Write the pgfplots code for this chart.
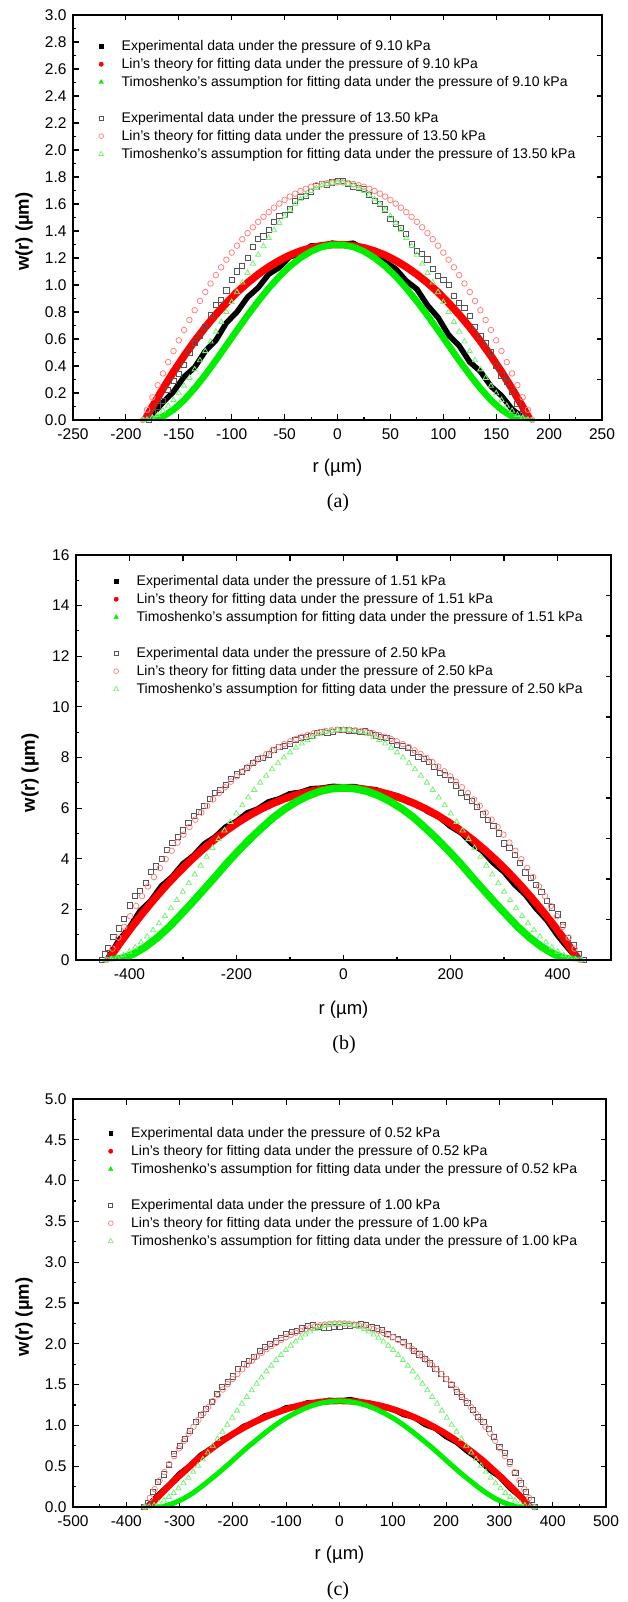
\documentclass[border=0pt]{standalone}
\usepackage{fontspec}
\setmainfont{Liberation Sans}
\newfontfamily\capfont{Liberation Serif}
\usepackage{pgfplots}
\pgfplotsset{compat=1.18}

\definecolor{lred}{RGB}{255,128,128}
\definecolor{lgreen}{RGB}{120,240,120}
\definecolor{fgreen}{RGB}{0,238,0}
\definecolor{dgray}{RGB}{85,85,85}

\pgfplotsset{
  frame/.style={
    scale only axis, anchor=north west,
    axis line style={line width=1.4pt},
    tick style={line width=1.1pt, black},
    major tick length=5.5pt, minor tick length=3pt,
    tick align=inside,
  },
  panel/.style={
    frame, tick pos=left,
    tick label style={font=\fontsize{15.5}{18}\selectfont},
    /pgf/number format/assume math mode=true,
    yticklabel style={xshift=-3pt},
    xticklabel style={yshift=-5pt},
    xlabel style={font=\fontsize{18.5}{22}\selectfont, anchor=center},
    ylabel style={font=\bfseries\fontsize{18.5}{22}\selectfont, anchor=center},
    legend cell align=left,
    legend style={draw=none, fill=none, inner sep=0pt, anchor=north west,
      row sep=5pt, column sep=0pt,
      nodes={inner sep=0pt, text height=10pt, text depth=3pt,
        font=\fontsize{14}{16}\selectfont}},
    legend image code/.code={
      \path[draw=none, fill=none] (-4pt,-5pt) rectangle (20.5pt,5pt);
      \draw[#1] plot coordinates {(0pt,1pt)};},
  },
  mirror/.style={frame, tick pos=right, xticklabels={}, yticklabels={},
    minor tick num=0},
  expA/.style={forget plot, black, line width=#1, line join=round, line cap=round},
  linA/.style={forget plot, red, line width=#1, line join=round, line cap=round},
  timA/.style={forget plot, fgreen, line width=#1, line join=round, line cap=round},
  expB/.style={forget plot, only marks, mark=square, mark size=2.6pt, mark options={dgray, line width=0.8pt}},
  linB/.style={forget plot, only marks, mark=o, mark size=2.8pt, mark options={lred, line width=0.8pt}},
  timB/.style={forget plot, only marks, mark=triangle, mark size=3pt, mark options={lgreen, line width=0.8pt}},
}

\newcommand{\legendset}[2]{%
  \addlegendimage{only marks, mark=square*, black, mark size=1.8pt}
  \addlegendentry{Experimental data under the pressure of #1 kPa}
  \addlegendimage{only marks, mark=*, red, mark size=2.2pt}
  \addlegendentry{Lin's theory for fitting data under the pressure of #1 kPa}
  \addlegendimage{only marks, mark=triangle*, fgreen, mark size=2.6pt}
  \addlegendentry{Timoshenko's assumption for fitting data under the pressure of #1 kPa}
  \addlegendimage{empty legend}
  \addlegendentry{}
  \addlegendimage{only marks, mark=square, mark size=2pt, mark options={dgray, line width=0.7pt}}
  \addlegendentry{Experimental data under the pressure of #2 kPa}
  \addlegendimage{only marks, mark=o, mark size=2.4pt, mark options={lred, line width=0.7pt}}
  \addlegendentry{Lin's theory for fitting data under the pressure of #2 kPa}
  \addlegendimage{only marks, mark=triangle, mark size=2.8pt, mark options={lgreen, line width=0.7pt}}
  \addlegendentry{Timoshenko's assumption for fitting data under the pressure of #2 kPa}
}

\begin{document}
\begin{tikzpicture}
\path[use as bounding box] (0,0) rectangle (627pt,-1602pt);

% ---------------- (a) ----------------
\begin{axis}[panel, at={(73pt,-15pt)}, width=529pt, height=405pt,
  xmin=-250, xmax=250, ymin=0, ymax=3,
  xtick={-250,-200,-150,-100,-50,0,50,100,150,200,250}, minor x tick num=1,
  ytick={0,0.2,0.4,0.6,0.8,1.0,1.2,1.4,1.6,1.8,2.0,2.2,2.4,2.6,2.8,3.0}, minor y tick num=1,
  yticklabel style={/pgf/number format/.cd, fixed, fixed zerofill, precision=1},
  xlabel={r (µm)}, ylabel={w(r) (µm)},
  xlabel style={at={([yshift=-48pt]axis description cs:0.5,0)}},
  ylabel style={at={([xshift=-49pt]axis description cs:0,0.465)}},
  legend style={at={(axis description cs:0,1)}, xshift=24pt, yshift=-25.5pt},
]
\addplot[expA=5.5pt] coordinates {(-178,0.00) (-175,0.04) (-165,0.13) (-155,0.21) (-145,0.32) (-135,0.39) (-125,0.51) (-115,0.59) (-105,0.72) (-95,0.80) (-85,0.91) (-75,0.98) (-65,1.08) (-55,1.13) (-45,1.21) (-35,1.23) (-25,1.29) (-15,1.29) (-5,1.31) (5,1.30) (15,1.31) (25,1.26) (35,1.24) (45,1.17) (55,1.12) (65,1.03) (75,0.97) (85,0.85) (95,0.76) (105,0.63) (115,0.55) (125,0.43) (135,0.36) (145,0.25) (155,0.18) (165,0.08) (175,0.02)};
\addplot[linA=7.5pt] coordinates {(-182,0) (-175,0.098) (-165,0.232) (-155,0.357) (-145,0.475) (-135,0.585) (-125,0.687) (-115,0.781) (-105,0.867) (-95,0.946) (-85,1.016) (-75,1.079) (-65,1.134) (-55,1.181) (-45,1.221) (-35,1.252) (-25,1.275) (-15,1.291) (-5,1.299) (5,1.299) (15,1.291) (25,1.275) (35,1.252) (45,1.221) (55,1.181) (65,1.134) (75,1.079) (85,1.016) (95,0.946) (105,0.867) (115,0.781) (125,0.687) (135,0.585) (145,0.475) (155,0.357) (165,0.232) (175,0.098) (182,0)};
\addplot[timA=6.5pt] coordinates {(-178,0) (-175,0.001) (-165,0.026) (-155,0.076) (-145,0.147) (-135,0.235) (-125,0.334) (-115,0.441) (-105,0.553) (-95,0.665) (-85,0.775) (-75,0.879) (-65,0.976) (-55,1.064) (-45,1.139) (-35,1.201) (-25,1.249) (-15,1.282) (-5,1.298) (5,1.298) (15,1.282) (25,1.249) (35,1.201) (45,1.139) (55,1.064) (65,0.976) (75,0.879) (85,0.775) (95,0.665) (105,0.553) (115,0.441) (125,0.334) (135,0.235) (145,0.147) (155,0.076) (165,0.026) (175,0.001) (178,0)};
\addplot[expB] coordinates {(-178,0.00) (-175,0.05) (-170,0.10) (-165,0.14) (-160,0.22) (-155,0.29) (-150,0.34) (-145,0.41) (-140,0.50) (-135,0.57) (-130,0.62) (-125,0.69) (-120,0.78) (-115,0.85) (-110,0.89) (-105,0.96) (-100,1.04) (-95,1.10) (-90,1.14) (-85,1.20) (-80,1.28) (-75,1.34) (-70,1.36) (-65,1.41) (-60,1.47) (-55,1.51) (-50,1.52) (-45,1.56) (-40,1.62) (-35,1.65) (-30,1.66) (-25,1.69) (-20,1.73) (-15,1.75) (-10,1.74) (-5,1.76) (0,1.77) (5,1.77) (10,1.75) (15,1.73) (20,1.72) (25,1.71) (30,1.67) (35,1.62) (40,1.60) (45,1.56) (50,1.49) (55,1.45) (60,1.42) (65,1.38) (70,1.30) (75,1.25) (80,1.23) (85,1.19) (90,1.12) (95,1.07) (100,1.04) (105,1.00) (110,0.92) (115,0.87) (120,0.83) (125,0.77) (130,0.69) (135,0.62) (140,0.57) (145,0.50) (150,0.40) (155,0.33) (160,0.28) (165,0.21) (170,0.12) (175,0.05)};
\addplot[linB] coordinates {(-184,0) (-180,0.076) (-175,0.168) (-170,0.258) (-165,0.345) (-160,0.429) (-155,0.511) (-150,0.590) (-145,0.667) (-140,0.741) (-135,0.813) (-130,0.882) (-125,0.948) (-120,1.011) (-115,1.073) (-110,1.131) (-105,1.187) (-100,1.240) (-95,1.291) (-90,1.339) (-85,1.384) (-80,1.427) (-75,1.468) (-70,1.505) (-65,1.540) (-60,1.573) (-55,1.603) (-50,1.630) (-45,1.655) (-40,1.677) (-35,1.696) (-30,1.713) (-25,1.728) (-20,1.739) (-15,1.748) (-10,1.755) (-5,1.759) (0,1.760) (5,1.759) (10,1.755) (15,1.748) (20,1.739) (25,1.728) (30,1.713) (35,1.696) (40,1.677) (45,1.655) (50,1.630) (55,1.603) (60,1.573) (65,1.540) (70,1.505) (75,1.468) (80,1.427) (85,1.384) (90,1.339) (95,1.291) (100,1.240) (105,1.187) (110,1.131) (115,1.073) (120,1.011) (125,0.948) (130,0.882) (135,0.813) (140,0.741) (145,0.667) (150,0.590) (155,0.511) (160,0.429) (165,0.345) (170,0.258) (175,0.168) (180,0.076) (184,0)};
\addplot[timB] coordinates {(-184,0) (-180,0.003) (-175,0.016) (-170,0.038) (-165,0.068) (-160,0.105) (-155,0.148) (-150,0.198) (-145,0.253) (-140,0.312) (-135,0.375) (-130,0.442) (-125,0.510) (-120,0.581) (-115,0.654) (-110,0.727) (-105,0.800) (-100,0.874) (-95,0.947) (-90,1.019) (-85,1.089) (-80,1.158) (-75,1.224) (-70,1.287) (-65,1.348) (-60,1.406) (-55,1.460) (-50,1.510) (-45,1.556) (-40,1.598) (-35,1.635) (-30,1.668) (-25,1.696) (-20,1.719) (-15,1.737) (-10,1.750) (-5,1.757) (0,1.760) (5,1.757) (10,1.750) (15,1.737) (20,1.719) (25,1.696) (30,1.668) (35,1.635) (40,1.598) (45,1.556) (50,1.510) (55,1.460) (60,1.406) (65,1.348) (70,1.287) (75,1.224) (80,1.158) (85,1.089) (90,1.019) (95,0.947) (100,0.874) (105,0.800) (110,0.727) (115,0.654) (120,0.581) (125,0.510) (130,0.442) (135,0.375) (140,0.312) (145,0.253) (150,0.198) (155,0.148) (160,0.105) (165,0.068) (170,0.038) (175,0.016) (180,0.003) (184,0)};
\legendset{9.10}{13.50}
\end{axis}
\begin{axis}[mirror, at={(73pt,-15pt)}, width=529pt, height=405pt,
  xmin=-250, xmax=250, ymin=0, ymax=3,
  xtick={-200,-150,-100,-50,0,50,100,150,200},
  ytick={0.3,0.6,0.9,1.2,1.5,1.8,2.1,2.4,2.7}]
\end{axis}
\node[font=\capfont\fontsize{20}{24}\selectfont] at (338pt,-503pt) {(a)};

% ---------------- (b) ----------------
\begin{axis}[panel, at={(76pt,-555pt)}, width=535pt, height=405pt,
  xmin=-500, xmax=500, ymin=0, ymax=16,
  xtick={-400,-200,0,200,400}, minor xtick={-300,-100,100,300},
  ytick={0,2,4,6,8,10,12,14,16}, minor y tick num=1,
  xlabel={r (µm)}, ylabel={w(r) (µm)},
  xlabel style={at={([yshift=-50pt]axis description cs:0.5,0)}},
  ylabel style={at={([xshift=-46pt]axis description cs:0,0.462)}},
  legend style={at={(axis description cs:0,1)}, xshift=36pt, yshift=-20.5pt},
]
\addplot[expA=6pt] coordinates {(-442,0.00) (-440,0.07) (-420,0.76) (-400,1.27) (-380,1.93) (-360,2.33) (-340,2.92) (-320,3.28) (-300,3.79) (-280,4.12) (-260,4.58) (-240,4.85) (-220,5.25) (-200,5.47) (-180,5.80) (-160,5.96) (-140,6.24) (-120,6.36) (-100,6.56) (-80,6.62) (-60,6.76) (-40,6.78) (-20,6.85) (0,6.83) (20,6.84) (40,6.76) (60,6.72) (80,6.58) (100,6.48) (120,6.27) (140,6.12) (160,5.85) (180,5.64) (200,5.29) (220,5.03) (240,4.61) (260,4.31) (280,3.85) (300,3.49) (320,2.99) (340,2.59) (360,2.05) (380,1.59) (400,0.99) (420,0.47) (440,0.02)};
\addplot[linA=7.5pt] coordinates {(-440,0) (-418,0.663) (-396,1.292) (-374,1.887) (-352,2.448) (-330,2.975) (-308,3.468) (-286,3.927) (-264,4.352) (-242,4.743) (-220,5.100) (-198,5.423) (-176,5.712) (-154,5.967) (-132,6.188) (-110,6.375) (-88,6.528) (-66,6.647) (-44,6.732) (-22,6.783) (0,6.800) (22,6.783) (44,6.732) (66,6.647) (88,6.528) (110,6.375) (132,6.188) (154,5.967) (176,5.712) (198,5.423) (220,5.100) (242,4.743) (264,4.352) (286,3.927) (308,3.468) (330,2.975) (352,2.448) (374,1.887) (396,1.292) (418,0.663) (440,0)};
\addplot[timA=7.5pt] coordinates {(-435,0) (-413,0.065) (-392,0.245) (-370,0.524) (-348,0.881) (-326,1.302) (-305,1.769) (-283,2.268) (-261,2.785) (-239,3.308) (-218,3.825) (-196,4.325) (-174,4.798) (-152,5.236) (-131,5.631) (-109,5.977) (-87,6.267) (-65,6.497) (-44,6.665) (-22,6.766) (0,6.800) (22,6.766) (44,6.665) (65,6.497) (87,6.267) (109,5.977) (131,5.631) (152,5.236) (174,4.798) (196,4.325) (218,3.825) (239,3.308) (261,2.785) (283,2.268) (305,1.769) (326,1.302) (348,0.881) (370,0.524) (392,0.245) (413,0.065) (435,0)};
\addplot[expB] coordinates {(-452,0.00) (-446,0.22) (-440,0.48) (-430,0.92) (-420,1.25) (-410,1.62) (-400,2.16) (-390,2.52) (-380,2.74) (-370,3.05) (-360,3.48) (-350,3.70) (-340,3.98) (-330,4.36) (-320,4.64) (-310,4.85) (-300,5.12) (-290,5.42) (-280,5.68) (-270,5.84) (-260,6.08) (-250,6.38) (-240,6.60) (-230,6.71) (-220,6.92) (-210,7.15) (-200,7.33) (-190,7.42) (-180,7.58) (-170,7.80) (-160,7.93) (-150,7.98) (-140,8.12) (-130,8.31) (-120,8.42) (-110,8.46) (-100,8.55) (-90,8.70) (-80,8.78) (-70,8.80) (-60,8.85) (-50,8.96) (-40,9.01) (-30,8.98) (-20,9.02) (-10,9.08) (0,9.10) (10,9.07) (20,9.04) (30,9.00) (40,9.03) (50,8.96) (60,8.87) (70,8.80) (80,8.77) (90,8.66) (100,8.49) (110,8.47) (120,8.37) (130,8.18) (140,8.02) (150,7.95) (160,7.82) (170,7.62) (180,7.40) (190,7.30) (200,7.13) (210,6.90) (220,6.61) (230,6.45) (240,6.27) (250,6.04) (260,5.75) (270,5.52) (280,5.31) (290,5.00) (300,4.61) (310,4.43) (320,4.16) (330,3.84) (340,3.46) (350,3.25) (360,2.98) (370,2.68) (380,2.33) (390,2.08) (400,1.80) (410,1.38) (420,0.88) (430,0.58) (440,0.24) (450,0.00)};
\addplot[linB] coordinates {(-443,0) (-431.9,0.449) (-420.9,0.887) (-409.8,1.314) (-398.7,1.729) (-387.6,2.133) (-376.6,2.525) (-365.5,2.906) (-354.4,3.276) (-343.3,3.634) (-332.3,3.981) (-321.2,4.317) (-310.1,4.641) (-299.0,4.954) (-288.0,5.255) (-276.9,5.545) (-265.8,5.824) (-254.7,6.091) (-243.7,6.347) (-232.6,6.592) (-221.5,6.825) (-210.4,7.047) (-199.4,7.257) (-188.3,7.456) (-177.2,7.644) (-166.1,7.820) (-155.1,7.985) (-144.0,8.139) (-132.9,8.281) (-121.8,8.412) (-110.8,8.531) (-99.7,8.639) (-88.6,8.736) (-77.5,8.821) (-66.5,8.895) (-55.4,8.958) (-44.3,9.009) (-33.2,9.049) (-22.2,9.077) (-11.1,9.094) (0,9.100) (11.1,9.094) (22.2,9.077) (33.2,9.049) (44.3,9.009) (55.4,8.958) (66.5,8.895) (77.5,8.821) (88.6,8.736) (99.7,8.639) (110.8,8.531) (121.8,8.412) (132.9,8.281) (144.0,8.139) (155.1,7.985) (166.1,7.820) (177.2,7.644) (188.3,7.456) (199.4,7.257) (210.4,7.047) (221.5,6.825) (232.6,6.592) (243.7,6.347) (254.7,6.091) (265.8,5.824) (276.9,5.545) (288.0,5.255) (299.0,4.954) (310.1,4.641) (321.2,4.317) (332.3,3.981) (343.3,3.634) (354.4,3.276) (365.5,2.906) (376.6,2.525) (387.6,2.133) (398.7,1.729) (409.8,1.314) (420.9,0.887) (431.9,0.449) (443,0)};
\addplot[timB] coordinates {(-445,0) (-433.9,0.022) (-422.8,0.086) (-411.6,0.190) (-400.5,0.329) (-389.4,0.500) (-378.3,0.701) (-367.1,0.928) (-356.0,1.179) (-344.9,1.451) (-333.8,1.742) (-322.6,2.048) (-311.5,2.367) (-300.4,2.697) (-289.3,3.035) (-278.1,3.379) (-267.0,3.727) (-255.9,4.077) (-244.8,4.427) (-233.6,4.775) (-222.5,5.119) (-211.4,5.457) (-200.3,5.788) (-189.1,6.110) (-178.0,6.421) (-166.9,6.721) (-155.8,7.007) (-144.6,7.279) (-133.5,7.536) (-122.4,7.776) (-111.3,7.998) (-100.1,8.202) (-89.0,8.387) (-77.9,8.551) (-66.8,8.695) (-55.6,8.818) (-44.5,8.919) (-33.4,8.998) (-22.3,9.055) (-11.1,9.089) (0,9.100) (11.1,9.089) (22.3,9.055) (33.4,8.998) (44.5,8.919) (55.6,8.818) (66.8,8.695) (77.9,8.551) (89.0,8.387) (100.1,8.202) (111.3,7.998) (122.4,7.776) (133.5,7.536) (144.6,7.279) (155.8,7.007) (166.9,6.721) (178.0,6.421) (189.1,6.110) (200.3,5.788) (211.4,5.457) (222.5,5.119) (233.6,4.775) (244.8,4.427) (255.9,4.077) (267.0,3.727) (278.1,3.379) (289.3,3.035) (300.4,2.697) (311.5,2.367) (322.6,2.048) (333.8,1.742) (344.9,1.451) (356.0,1.179) (367.1,0.928) (378.3,0.701) (389.4,0.500) (400.5,0.329) (411.6,0.190) (422.8,0.086) (433.9,0.022) (445,0)};
\legendset{1.51}{2.50}
\end{axis}
\begin{axis}[mirror, at={(76pt,-555pt)}, width=535pt, height=405pt,
  xmin=-500, xmax=500, ymin=0, ymax=16,
  xtick={-400,-300,-200,-100,0,100,200,300,400},
  ytick={1.6,3.2,4.8,6.4,8.0,9.6,11.2,12.8,14.4}]
\end{axis}
\node[font=\capfont\fontsize{20}{24}\selectfont] at (344pt,-1045pt) {(b)};

% ---------------- (c) ----------------
\begin{axis}[panel, at={(73pt,-1099pt)}, width=533pt, height=408pt,
  xmin=-500, xmax=500, ymin=0, ymax=5,
  xtick={-500,-400,-300,-200,-100,0,100,200,300,400,500}, minor x tick num=1,
  ytick={0,0.5,1.0,1.5,2.0,2.5,3.0,3.5,4.0,4.5,5.0}, minor y tick num=1,
  yticklabel style={/pgf/number format/.cd, fixed, fixed zerofill, precision=1},
  xlabel={r (µm)}, ylabel={w(r) (µm)},
  xlabel style={at={([yshift=-48pt]axis description cs:0.5,0)}},
  ylabel style={at={([xshift=-49pt]axis description cs:0,0.466)}},
  legend style={at={(axis description cs:0,1)}, xshift=33.5pt, yshift=-28.5pt},
]
\addplot[expA=5pt] coordinates {(-362,0.00) (-360,0.01) (-340,0.15) (-320,0.27) (-300,0.41) (-280,0.51) (-260,0.64) (-240,0.72) (-220,0.83) (-200,0.89) (-180,0.99) (-160,1.04) (-140,1.12) (-120,1.15) (-100,1.22) (-80,1.23) (-60,1.28) (-40,1.28) (-20,1.31) (0,1.30) (20,1.32) (40,1.29) (60,1.27) (80,1.22) (100,1.20) (120,1.13) (140,1.10) (160,1.01) (180,0.96) (200,0.86) (220,0.79) (240,0.68) (260,0.59) (280,0.46) (300,0.37) (320,0.23) (340,0.12) (350,0.03)};
\addplot[linA=6.5pt] coordinates {(-358,0) (-340,0.127) (-322,0.247) (-304,0.361) (-286,0.468) (-269,0.569) (-251,0.663) (-233,0.751) (-215,0.832) (-197,0.907) (-179,0.975) (-161,1.037) (-143,1.092) (-125,1.141) (-107,1.183) (-90,1.219) (-72,1.248) (-54,1.271) (-36,1.287) (-18,1.297) (0,1.300) (18,1.297) (36,1.287) (54,1.271) (72,1.248) (90,1.219) (107,1.183) (125,1.141) (143,1.092) (161,1.037) (179,0.975) (197,0.907) (215,0.832) (233,0.751) (251,0.663) (269,0.569) (286,0.468) (304,0.361) (322,0.247) (340,0.127) (358,0)};
\addplot[timA=5pt] coordinates {(-345,0) (-328,0.012) (-311,0.047) (-293,0.100) (-276,0.168) (-259,0.249) (-242,0.338) (-224,0.434) (-207,0.532) (-190,0.632) (-173,0.731) (-155,0.827) (-138,0.917) (-121,1.001) (-104,1.077) (-86,1.143) (-69,1.198) (-52,1.242) (-35,1.274) (-17,1.294) (0,1.300) (17,1.294) (35,1.274) (52,1.242) (69,1.198) (86,1.143) (104,1.077) (121,1.001) (138,0.917) (155,0.827) (173,0.731) (190,0.632) (207,0.532) (224,0.434) (242,0.338) (259,0.249) (276,0.168) (293,0.100) (311,0.047) (328,0.012) (345,0)};
\addplot[expB] coordinates {(-366,0.00) (-360,0.05) (-350,0.19) (-340,0.31) (-330,0.40) (-320,0.52) (-310,0.65) (-300,0.75) (-290,0.83) (-280,0.93) (-270,1.04) (-260,1.13) (-250,1.20) (-240,1.29) (-230,1.39) (-220,1.47) (-210,1.53) (-200,1.60) (-190,1.69) (-180,1.75) (-170,1.79) (-160,1.84) (-150,1.91) (-140,1.96) (-130,2.00) (-120,2.03) (-110,2.07) (-100,2.12) (-90,2.15) (-80,2.16) (-70,2.19) (-60,2.22) (-50,2.23) (-40,2.21) (-30,2.20) (-20,2.20) (-10,2.21) (0,2.21) (10,2.22) (20,2.22) (30,2.23) (40,2.24) (50,2.23) (60,2.20) (70,2.19) (80,2.17) (90,2.12) (100,2.08) (110,2.06) (120,2.02) (130,1.97) (140,1.91) (150,1.87) (160,1.82) (170,1.76) (180,1.69) (190,1.63) (200,1.57) (210,1.50) (220,1.41) (230,1.35) (240,1.28) (250,1.19) (260,1.10) (270,1.04) (280,0.96) (290,0.86) (300,0.74) (310,0.66) (320,0.55) (330,0.42) (340,0.29) (350,0.19) (360,0.09) (366,0.00)};
\addplot[linB] coordinates {(-365,0) (-355.9,0.111) (-346.8,0.219) (-337.6,0.325) (-328.5,0.428) (-319.4,0.527) (-310.3,0.624) (-301.1,0.719) (-292.0,0.810) (-282.9,0.899) (-273.8,0.984) (-264.6,1.067) (-255.5,1.148) (-246.4,1.225) (-237.3,1.299) (-228.1,1.371) (-219.0,1.440) (-209.9,1.506) (-200.8,1.569) (-191.6,1.630) (-182.5,1.688) (-173.4,1.742) (-164.3,1.794) (-155.1,1.844) (-146.0,1.890) (-136.9,1.934) (-127.8,1.974) (-118.6,2.012) (-109.5,2.048) (-100.4,2.080) (-91.3,2.109) (-82.1,2.136) (-73.0,2.160) (-63.9,2.181) (-54.8,2.199) (-45.6,2.215) (-36.5,2.228) (-27.4,2.237) (-18.3,2.244) (-9.1,2.249) (0,2.250) (9.1,2.249) (18.3,2.244) (27.4,2.237) (36.5,2.228) (45.6,2.215) (54.8,2.199) (63.9,2.181) (73.0,2.160) (82.1,2.136) (91.3,2.109) (100.4,2.080) (109.5,2.048) (118.6,2.012) (127.8,1.974) (136.9,1.934) (146.0,1.890) (155.1,1.844) (164.3,1.794) (173.4,1.742) (182.5,1.688) (191.6,1.630) (200.8,1.569) (209.9,1.506) (219.0,1.440) (228.1,1.371) (237.3,1.299) (246.4,1.225) (255.5,1.148) (264.6,1.067) (273.8,0.984) (282.9,0.899) (292.0,0.810) (301.1,0.719) (310.3,0.624) (319.4,0.527) (328.5,0.428) (337.6,0.325) (346.8,0.219) (355.9,0.111) (365,0)};
\addplot[timB] coordinates {(-366,0) (-356.9,0.006) (-347.7,0.021) (-338.6,0.047) (-329.4,0.081) (-320.3,0.124) (-311.1,0.173) (-302.0,0.230) (-292.8,0.292) (-283.7,0.359) (-274.5,0.431) (-265.4,0.506) (-256.2,0.585) (-247.1,0.667) (-237.9,0.750) (-228.8,0.836) (-219.6,0.922) (-210.5,1.008) (-201.3,1.095) (-192.2,1.181) (-183.0,1.266) (-173.9,1.349) (-164.7,1.431) (-155.6,1.511) (-146.4,1.588) (-137.3,1.662) (-128.1,1.733) (-119.0,1.800) (-109.8,1.863) (-100.7,1.923) (-91.5,1.978) (-82.4,2.028) (-73.2,2.074) (-64.1,2.114) (-54.9,2.150) (-45.8,2.180) (-36.6,2.205) (-27.5,2.225) (-18.3,2.239) (-9.2,2.247) (0,2.250) (9.2,2.247) (18.3,2.239) (27.5,2.225) (36.6,2.205) (45.8,2.180) (54.9,2.150) (64.1,2.114) (73.2,2.074) (82.4,2.028) (91.5,1.978) (100.7,1.923) (109.8,1.863) (119.0,1.800) (128.1,1.733) (137.3,1.662) (146.4,1.588) (155.6,1.511) (164.7,1.431) (173.9,1.349) (183.0,1.266) (192.2,1.181) (201.3,1.095) (210.5,1.008) (219.6,0.922) (228.8,0.836) (237.9,0.750) (247.1,0.667) (256.2,0.585) (265.4,0.506) (274.5,0.431) (283.7,0.359) (292.8,0.292) (302.0,0.230) (311.1,0.173) (320.3,0.124) (329.4,0.081) (338.6,0.047) (347.7,0.021) (356.9,0.006) (366,0)};
\legendset{0.52}{1.00}
\end{axis}
\begin{axis}[mirror, at={(73pt,-1099pt)}, width=533pt, height=408pt,
  xmin=-500, xmax=500, ymin=0, ymax=5,
  xtick={-400,-300,-200,-100,0,100,200,300,400},
  ytick={0.5,1.0,1.5,2.0,2.5,3.0,3.5,4.0,4.5}]
\end{axis}
\node[font=\capfont\fontsize{20}{24}\selectfont] at (338pt,-1591pt) {(c)};
\end{tikzpicture}
\end{document}
